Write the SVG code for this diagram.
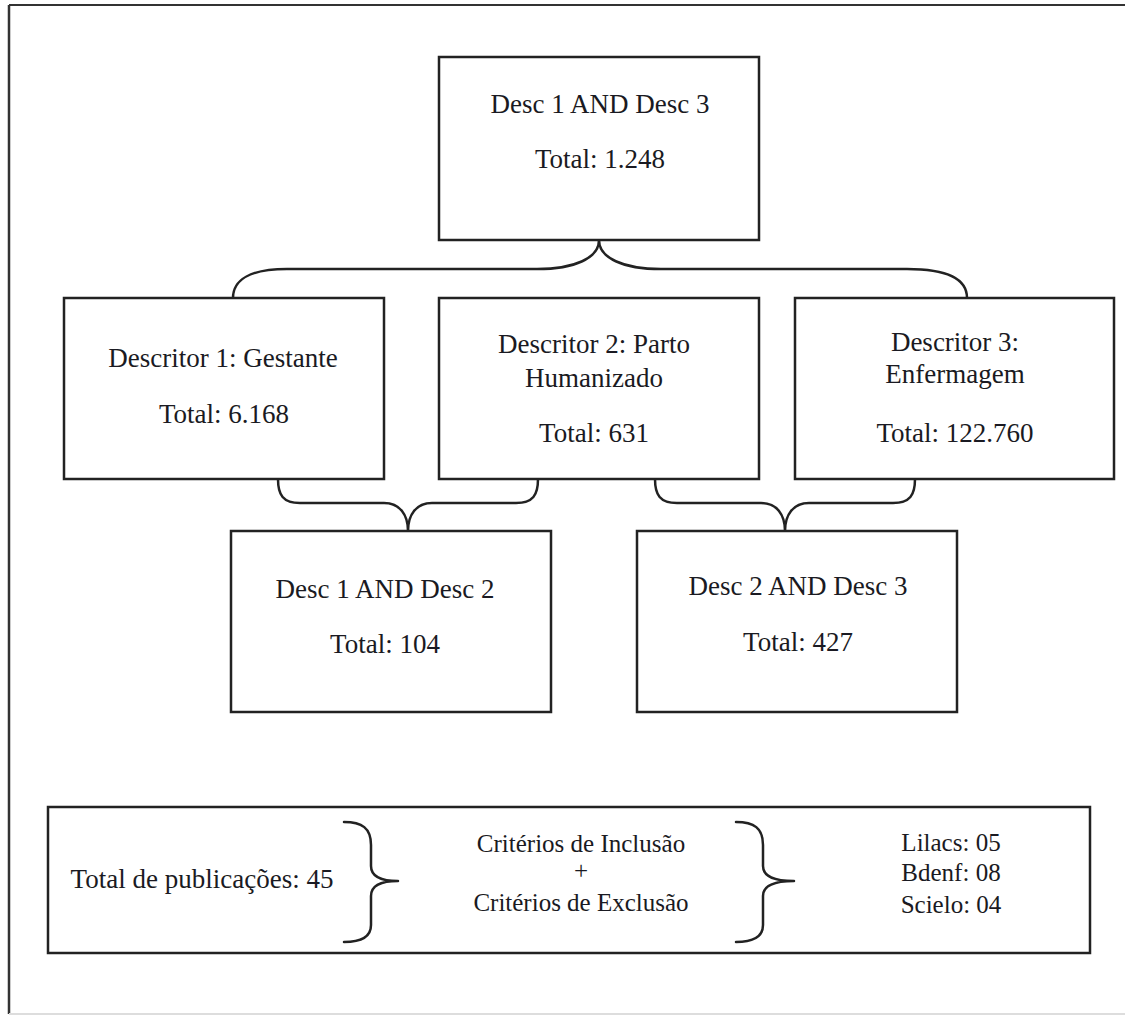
<svg xmlns="http://www.w3.org/2000/svg" width="1125" height="1016" viewBox="0 0 1125 1016">
<style>
.box{fill:#fff;stroke:#222;stroke-width:2.5}
.con{fill:none;stroke:#222;stroke-width:2.5;stroke-linejoin:round;stroke-linecap:round}
.t{font-family:'Liberation Serif','DejaVu Serif','Times New Roman',serif;font-size:27px;fill:#1a1a22;text-anchor:middle}
.s{font-size:25px}
</style>
<rect width="1125" height="1016" fill="#fff"/>
<g id="frame">
<line x1="9" y1="5" x2="1125" y2="5" stroke="#333" stroke-width="2"/>
<line x1="9" y1="5" x2="9" y2="1014" stroke="#333" stroke-width="2.5"/>
<line x1="9" y1="1014" x2="1125" y2="1014" stroke="#ddd" stroke-width="2"/>
</g>
<g id="connectors">
<path class="con" d="M233,298 C233,280 250,269 287,269 L537,269 C575,269 599,258 599,240 C599,258 623,269 661,269 L907,269 C950,269 967,280 967,298"/>
<path class="con" d="M278,479 C278,495 283,503 300,503 L384,503 C400,503 408,515 408,531 C408,515 416,503 432,503 L516,503 C533,503 538,495 538,479"/>
<path class="con" d="M655,479 C655,495 660,503 677,503 L761,503 C777,503 785,515 785,531 C785,515 793,503 809,503 L893,503 C910,503 915,495 915,479"/>
</g>
<g id="n-desc13">
<rect class="box" x="439" y="57" width="320" height="183"/>
<text class="t" x="600" y="113">Desc 1 AND Desc 3</text>
<text class="t" x="600" y="168">Total: 1.248</text>
</g>
<g id="n-desc1">
<rect class="box" x="64" y="298" width="320" height="181"/>
<text class="t" x="223" y="367">Descritor 1: Gestante</text>
<text class="t" x="224" y="423">Total: 6.168</text>
</g>
<g id="n-desc2">
<rect class="box" x="439" y="298" width="320" height="181"/>
<text class="t" x="594" y="353">Descritor 2: Parto</text>
<text class="t" x="594" y="387">Humanizado</text>
<text class="t" x="594" y="442">Total: 631</text>
</g>
<g id="n-desc3">
<rect class="box" x="795" y="298" width="319" height="181"/>
<text class="t" x="955" y="351">Descritor 3:</text>
<text class="t" x="955" y="383">Enfermagem</text>
<text class="t" x="955" y="442">Total: 122.760</text>
</g>
<g id="n-desc12">
<rect class="box" x="231" y="531" width="320" height="181"/>
<text class="t" x="385" y="598">Desc 1 AND Desc 2</text>
<text class="t" x="385" y="653">Total: 104</text>
</g>
<g id="n-desc23">
<rect class="box" x="637" y="531" width="320" height="181"/>
<text class="t" x="798" y="595">Desc 2 AND Desc 3</text>
<text class="t" x="798" y="651">Total: 427</text>
</g>
<g id="n-result">
<rect class="box" x="48" y="807" width="1042" height="146"/>
<text class="t" x="202" y="888">Total de publicações: 45</text>
<path class="con" stroke-width="3" d="M344,822 C362,822 371,828 371,845 L371,866 C371,876 380,881 398,881 C380,881 371,886 371,896 L371,925 C371,936 362,942 344,942"/>
<text class="t s" x="581" y="852">Critérios de Inclusão</text>
<text class="t s" x="581" y="879">+</text>
<text class="t s" x="581" y="911">Critérios de Exclusão</text>
<path class="con" stroke-width="3" d="M736,822 C754,822 763,828 763,845 L763,866 C763,876 772,881 794,881 C772,881 763,886 763,896 L763,925 C763,936 754,942 736,942"/>
<text class="t s" x="951" y="851">Lilacs: 05</text>
<text class="t s" x="951" y="881">Bdenf: 08</text>
<text class="t s" x="951" y="913">Scielo: 04</text>
</g>
</svg>
